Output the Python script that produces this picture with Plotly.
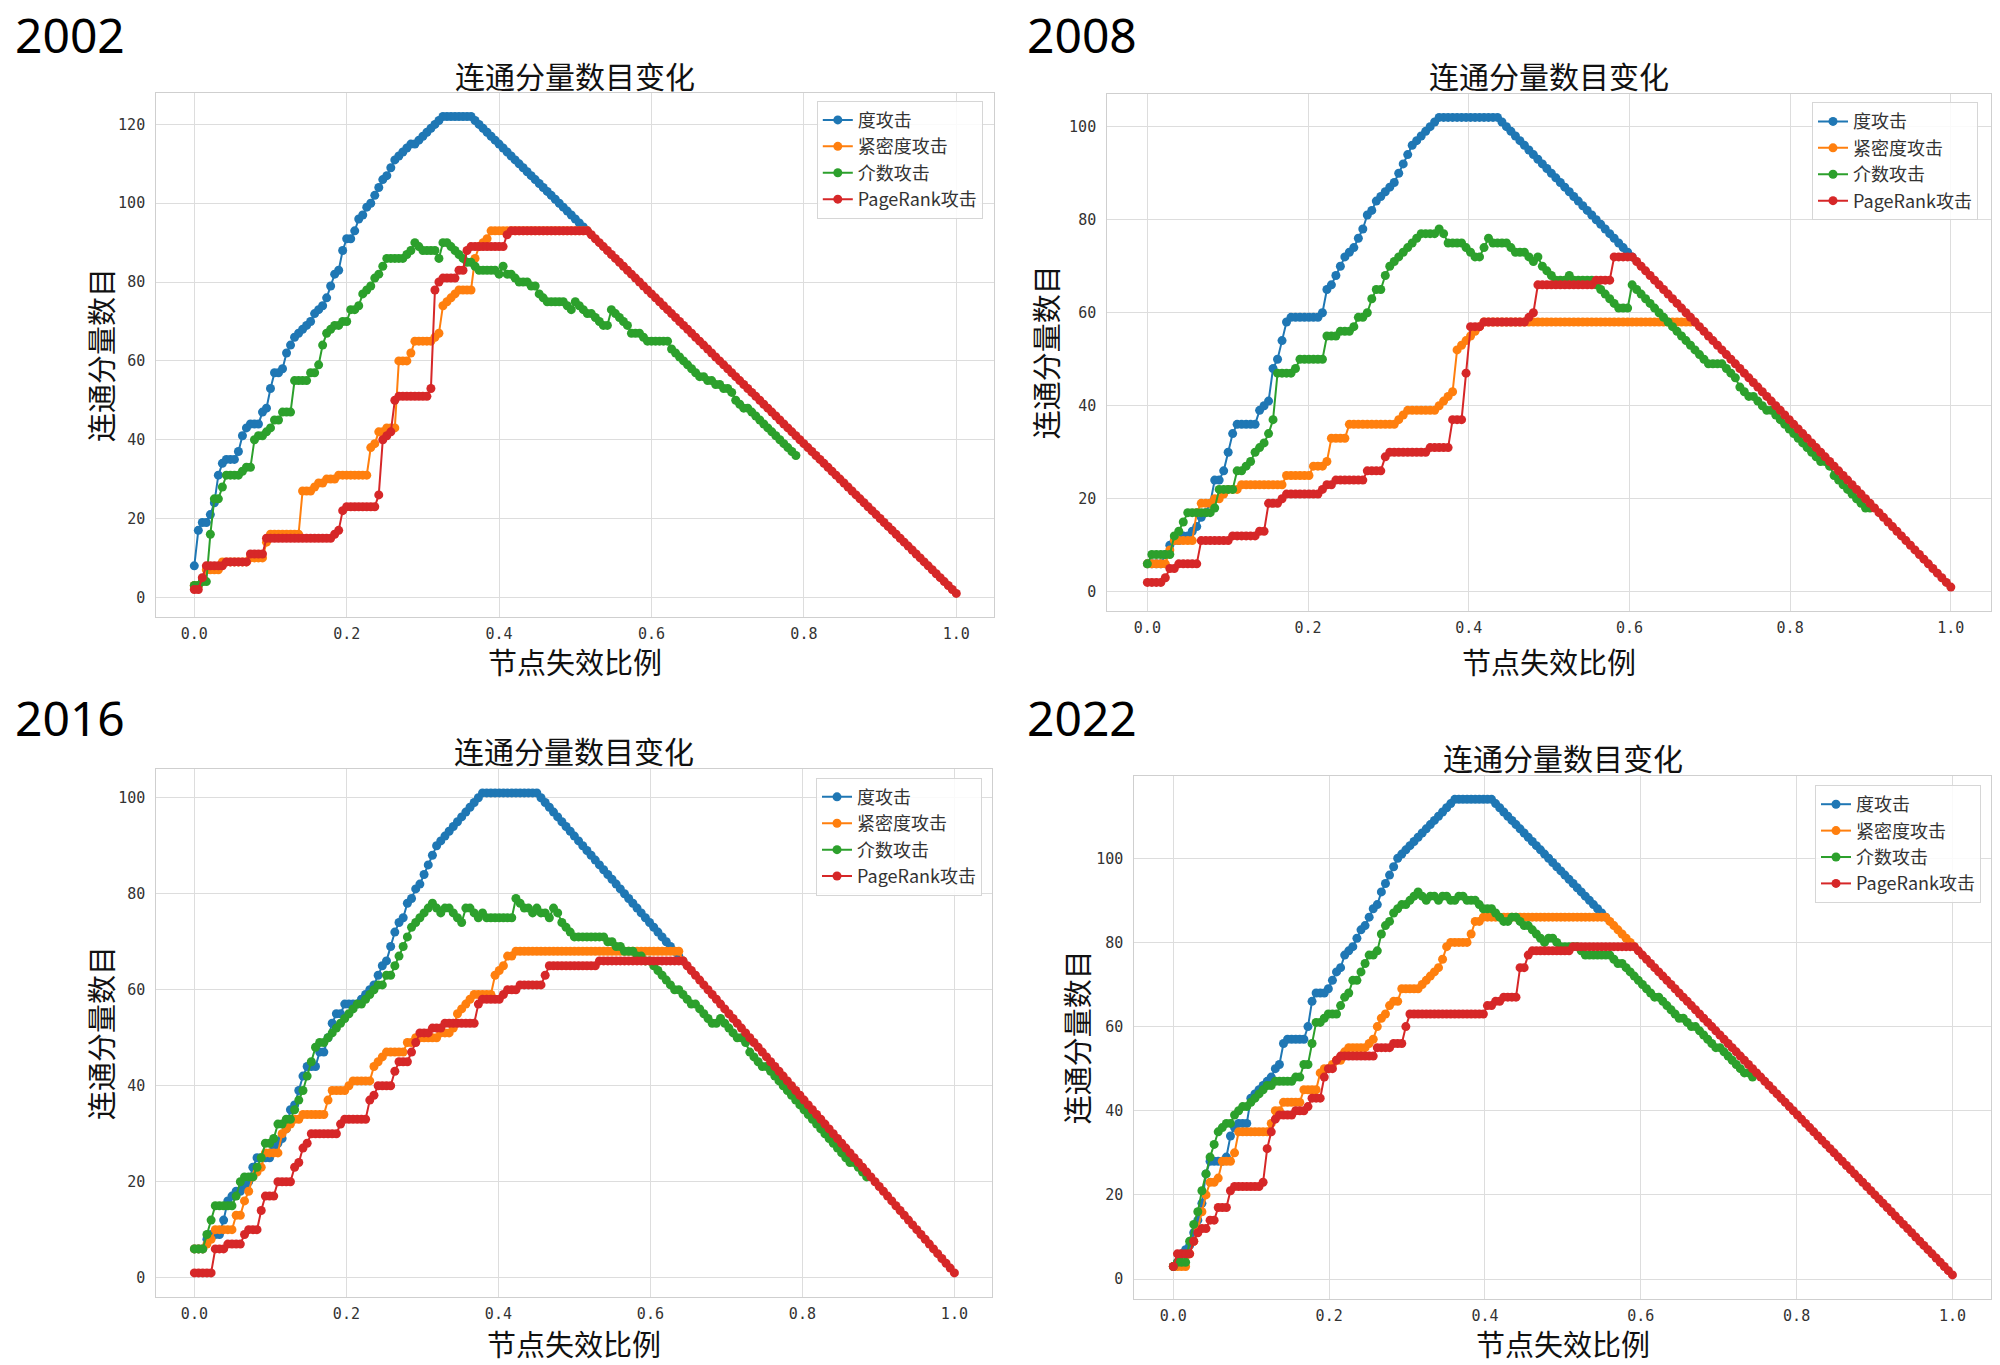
import numpy as np
import plotly.graph_objects as go

# 网络节点数 (横轴 = 已移除节点数 / 节点数)
n_2002 = 190
n_2008 = 179
n_2016 = 182
n_2022 = 191

# ---------------- 2002 ----------------
deg_2002 = [8, 17, 19, 19, 21, 24, 31, 34, 35, 35, 35, 37, 41, 43, 44, 44, 44, 47, 48, 53,
            57, 57, 58, 62, 64, 66, 67, 68, 69, 70, 72, 73, 74, 76, 79, 82, 83, 88, 91, 91,
            93, 96, 97, 99, 100, 102, 104, 106, 107, 109, 111, 112, 113, 114, 115, 115, 116, 117, 118, 119,
            120, 121, 122, 122, 122, 122, 122, 122, 122, 122, 121, 120, 119, 118, 117, 116, 115, 114, 113, 112,
            111, 110, 109, 108, 107, 106, 105, 104, 103, 102, 101, 100, 99, 98, 97, 96, 95, 94, 93]
cls_2002 = [3, 3, 4, 7, 7, 7, 7, 9, 9, 9, 9, 9, 9, 9, 10, 10, 10, 10, 14, 16,
            16, 16, 16, 16, 16, 16, 16, 27, 27, 27, 28, 29, 29, 30, 30, 30, 31, 31, 31, 31,
            31, 31, 31, 31, 38, 39, 42, 42, 43, 43, 43, 60, 60, 60, 62, 65, 65, 65, 65, 65,
            66, 67, 74, 75, 76, 77, 78, 78, 78, 78, 86, 89, 90, 91, 93, 93, 93, 93, 93, 93,
            93, 93, 93, 93, 93, 93, 93, 93, 93, 93, 93, 93, 93, 93, 93, 93, 93, 93, 93]
btw_2002 = [3, 3, 4, 4, 16, 25, 25, 28, 31, 31, 31, 31, 32, 33, 33, 40, 41, 41, 42, 43,
            45, 45, 47, 47, 47, 55, 55, 55, 55, 57, 57, 59, 64, 67, 68, 69, 69, 70, 70, 73,
            73, 74, 77, 78, 79, 81, 82, 84, 86, 86, 86, 86, 86, 87, 88, 90, 89, 88, 88, 88,
            88, 86, 90, 90, 89, 88, 87, 86, 85, 85, 84, 83, 83, 83, 83, 83, 82, 84, 82, 82,
            81, 80, 80, 80, 79, 79, 77, 76, 75, 75, 75, 75, 75, 74, 73, 75, 74, 73, 72, 72,
            71, 70, 69, 69, 73, 72, 71, 70, 69, 67, 67, 67, 66, 65, 65, 65, 65, 65, 65, 63,
            62, 61, 60, 59, 58, 57, 56, 56, 55, 55, 54, 54, 53, 53, 52, 50, 49, 48, 48, 47,
            46, 45, 44, 43, 42, 41, 40, 39, 38, 37, 36]
pr_2002 = [2, 2, 5, 8, 8, 8, 8, 8, 9, 9, 9, 9, 9, 9, 11, 11, 11, 11, 15, 15,
           15, 15, 15, 15, 15, 15, 15, 15, 15, 15, 15, 15, 15, 15, 15, 16, 17, 22, 23, 23,
           23, 23, 23, 23, 23, 23, 26, 40, 41, 42, 50, 51, 51, 51, 51, 51, 51, 51, 51, 53,
           78, 80, 81, 81, 81, 81, 83, 83, 88, 89, 89, 89, 89, 89, 89, 89, 89, 89, 92, 93,
           93, 93, 93, 93, 93, 93, 93, 93, 93, 93, 93, 93, 93, 93, 93, 93, 93, 93, 93,
           92, 91, 90, 89, 88, 87, 86, 85, 84, 83, 82, 81, 80, 79, 78, 77, 76, 75, 74, 73,
           72, 71, 70, 69, 68, 67, 66, 65, 64, 63, 62, 61, 60, 59, 58, 57, 56, 55, 54, 53,
           52, 51, 50, 49, 48, 47, 46, 45, 44, 43, 42, 41, 40, 39, 38, 37, 36, 35, 34, 33,
           32, 31, 30, 29, 28, 27, 26, 25, 24, 23, 22, 21, 20, 19, 18, 17, 16, 15, 14, 13,
           12, 11, 10, 9, 8, 7, 6, 5, 4, 3, 2, 1]

# ---------------- 2008 ----------------
deg_2008 = [6, 6, 6, 6, 8, 10, 11, 11, 12, 12, 13, 14, 16, 17, 19, 24, 24, 26, 30, 34,
            36, 36, 36, 36, 36, 39, 40, 41, 48, 50, 54, 58, 59, 59, 59, 59, 59, 59, 59, 60,
            65, 66, 68, 70, 72, 73, 74, 76, 78, 81, 82, 84, 85, 86, 87, 88, 90, 92, 94, 96,
            97, 98, 99, 100, 101, 102, 102, 102, 102, 102, 102, 102, 102, 102, 102, 102, 102, 102, 102, 101,
            100, 99, 98, 97, 96, 95, 94, 93, 92, 91, 90, 89, 88, 87, 86, 85, 84, 83, 82, 81,
            80, 79, 78, 77, 76, 75, 74, 73, 72]
cls_2008 = [6, 6, 6, 6, 6, 9, 11, 11, 11, 11, 11, 17, 19, 19, 19, 20, 20, 21, 22, 22,
            22, 23, 23, 23, 23, 23, 23, 23, 23, 23, 23, 25, 25, 25, 25, 25, 25, 27, 27, 27,
            28, 33, 33, 33, 33, 36, 36, 36, 36, 36, 36, 36, 36, 36, 36, 36, 37, 38, 39, 39,
            39, 39, 39, 39, 39, 40, 41, 42, 43, 52, 53, 54, 55, 56, 57, 58, 58, 58, 58, 58,
            58, 58, 58, 58, 58, 58, 58, 58, 58, 58, 58, 58, 58, 58, 58, 58, 58, 58, 58, 58,
            58, 58, 58, 58, 58, 58, 58, 58, 58, 58, 58, 58, 58, 58, 58, 58, 58, 58, 58, 58,
            58, 58, 58]
btw_2008 = [6, 8, 8, 8, 8, 8, 12, 13, 15, 17, 17, 17, 17, 17, 17, 18, 22, 22, 22, 22,
            26, 26, 27, 28, 30, 31, 32, 34, 37, 47, 47, 47, 47, 48, 50, 50, 50, 50, 50, 50,
            55, 55, 55, 56, 56, 56, 57, 59, 59, 60, 63, 65, 65, 68, 70, 71, 72, 73, 74, 75,
            76, 77, 77, 77, 77, 78, 77, 75, 75, 75, 75, 74, 73, 72, 72, 74, 76, 75, 75, 75,
            75, 74, 73, 73, 73, 72, 71, 72, 70, 69, 68, 67, 67, 67, 68, 67, 67, 67, 67, 67,
            66, 65, 64, 63, 62, 61, 61, 61, 66, 65, 64, 63, 62, 61, 60, 59, 58, 57, 56, 55,
            54, 53, 52, 51, 50, 49, 49, 49, 49, 48, 47, 46, 44, 43, 42, 42, 41, 40, 39, 39,
            38, 37, 36, 35, 34, 33, 32, 31, 30, 29, 28, 28, 27, 25, 24, 23, 22, 21, 20, 19,
            18, 18]
pr_2008 = [2, 2, 2, 2, 3, 5, 5, 6, 6, 6, 6, 6, 11, 11, 11, 11, 11, 11, 11, 12,
           12, 12, 12, 12, 12, 13, 13, 19, 19, 19, 20, 21, 21, 21, 21, 21, 21, 21, 21, 22,
           23, 23, 24, 24, 24, 24, 24, 24, 24, 26, 26, 26, 26, 29, 30, 30, 30, 30, 30, 30,
           30, 30, 30, 31, 31, 31, 31, 31, 37, 37, 37, 47, 57, 57, 57, 58, 58, 58, 58, 58,
           58, 58, 58, 58, 58, 59, 60, 66, 66, 66, 66, 66, 66, 66, 66, 66, 66, 66, 66, 66,
           67, 67, 67, 67, 72, 72, 72, 72, 72,
           71, 70, 69, 68, 67, 66, 65, 64, 63, 62, 61, 60, 59, 58, 57, 56, 55, 54, 53, 52,
           51, 50, 49, 48, 47, 46, 45, 44, 43, 42, 41, 40, 39, 38, 37, 36, 35, 34, 33, 32,
           31, 30, 29, 28, 27, 26, 25, 24, 23, 22, 21, 20, 19, 18, 17, 16, 15, 14, 13, 12,
           11, 10, 9, 8, 7, 6, 5, 4, 3, 2, 1]

# ---------------- 2016 ----------------
deg_2016 = [6, 6, 6, 8, 9, 9, 9, 12, 16, 17, 18, 18, 19, 20, 23, 25, 25, 25, 25, 27,
            28, 29, 31, 35, 36, 39, 42, 44, 44, 44, 47, 47, 50, 53, 55, 55, 57, 57, 57, 57,
            58, 59, 60, 61, 63, 65, 66, 69, 72, 74, 75, 78, 79, 81, 82, 84, 86, 88, 90, 91,
            92, 93, 94, 95, 96, 97, 98, 99, 100, 101, 101, 101, 101, 101, 101, 101, 101, 101, 101, 101,
            101, 101, 101, 100, 99, 98, 97, 96, 95, 94, 93, 92, 91, 90, 89, 88, 87, 86, 85, 84,
            83, 82, 81, 80, 79, 78, 77, 76, 75, 74, 73, 72, 71, 70, 69, 68, 67, 66]
cls_2016 = [6, 6, 6, 7, 8, 10, 10, 10, 10, 10, 13, 13, 16, 18, 21, 22, 23, 26, 26, 26,
            26, 30, 31, 32, 33, 33, 34, 34, 34, 34, 34, 34, 37, 39, 39, 39, 39, 40, 41, 41,
            41, 41, 41, 44, 45, 46, 47, 47, 47, 47, 47, 49, 49, 50, 50, 50, 50, 50, 50, 51,
            51, 51, 52, 55, 56, 57, 58, 59, 59, 59, 59, 59, 63, 64, 65, 67, 67, 68, 68, 68,
            68, 68, 68, 68, 68, 68, 68, 68, 68, 68, 68, 68, 68, 68, 68, 68, 68, 68, 68, 68,
            68, 68, 68, 68, 68, 68, 68, 68, 68, 68, 68, 68, 68, 68, 68, 68, 68, 66]
btw_2016 = [6, 6, 6, 9, 12, 15, 15, 15, 15, 15, 17, 20, 21, 21, 21, 23, 25, 28, 28, 29,
            32, 32, 33, 33, 35, 37, 39, 42, 45, 48, 49, 49, 50, 51, 52, 53, 54, 55, 56, 57,
            57, 58, 59, 60, 61, 61, 63, 63, 65, 67, 69, 71, 73, 74, 75, 76, 77, 78, 77, 76,
            77, 77, 76, 75, 74, 77, 77, 76, 75, 76, 75, 75, 75, 75, 75, 75, 75, 79, 78, 77,
            77, 76, 77, 76, 76, 75, 77, 76, 74, 73, 72, 71, 71, 71, 71, 71, 71, 71, 71, 70,
            70, 69, 69, 68, 68, 68, 67, 67, 66, 66, 65, 64, 63, 62, 61, 60, 60, 59, 58, 57,
            57, 56, 55, 54, 53, 53, 54, 53, 52, 51, 50, 50, 49, 47, 46, 45, 44, 44, 43, 42,
            41, 40, 39, 38, 37, 36, 35, 34, 33, 32, 31, 30, 29, 28, 27, 26, 25, 24, 24, 23,
            22, 21]
pr_2016 = [1, 1, 1, 1, 1, 6, 6, 6, 7, 7, 7, 7, 9, 10, 10, 10, 14, 17, 17, 17,
           20, 20, 20, 20, 23, 24, 27, 28, 30, 30, 30, 30, 30, 30, 30, 32, 33, 33, 33, 33,
           33, 33, 37, 38, 40, 40, 40, 40, 43, 45, 45, 45, 47, 49, 51, 51, 51, 52, 52, 52,
           53, 53, 53, 53, 53, 53, 53, 53, 57, 58, 58, 58, 58, 58, 59, 60, 60, 60, 61, 61,
           61, 61, 61, 61, 63, 65, 65, 65, 65, 65, 65, 65, 65, 65, 65, 65, 65, 66, 66, 66,
           66, 66, 66, 66, 66, 66, 66, 66, 66, 66, 66, 66, 66, 66, 66, 66, 66, 66,
           65, 64, 63, 62, 61, 60, 59, 58, 57, 56, 55, 54, 53, 52, 51, 50, 49, 48, 47, 46,
           45, 44, 43, 42, 41, 40, 39, 38, 37, 36, 35, 34, 33, 32, 31, 30, 29, 28, 27, 26,
           25, 24, 23, 22, 21, 20, 19, 18, 17, 16, 15, 14, 13, 12, 11, 10, 9, 8, 7, 6,
           5, 4, 3, 2, 1]

# ---------------- 2022 ----------------
deg_2022 = [3, 4, 6, 7, 8, 11, 14, 18, 25, 28, 28, 28, 28, 29, 34, 36, 37, 37, 37, 43,
            44, 45, 46, 47, 48, 50, 51, 56, 57, 57, 57, 57, 57, 60, 66, 68, 68, 68, 69, 71,
            73, 74, 77, 78, 79, 81, 83, 84, 86, 88, 89, 92, 94, 96, 98, 100, 101, 102, 103, 104,
            105, 106, 107, 108, 109, 110, 111, 112, 113, 114, 114, 114, 114, 114, 114, 114, 114, 114, 114, 113,
            112, 111, 110, 109, 108, 107, 106, 105, 104, 103, 102, 101, 100, 99, 98, 97, 96, 95, 94, 93,
            92, 91, 90, 89, 88, 87, 86]
cls_2022 = [3, 3, 3, 3, 6, 9, 12, 16, 20, 23, 23, 24, 28, 28, 28, 30, 35, 35, 35, 35,
            35, 35, 35, 35, 37, 40, 40, 42, 42, 42, 42, 42, 45, 45, 45, 45, 49, 50, 50, 51,
            52, 52, 54, 55, 55, 55, 55, 55, 56, 57, 60, 62, 63, 65, 66, 66, 69, 69, 69, 69,
            69, 70, 71, 72, 73, 74, 76, 79, 80, 80, 80, 80, 80, 82, 85, 85, 86, 86, 86, 86,
            86, 86, 86, 86, 86, 86, 86, 86, 86, 86, 86, 86, 86, 86, 86, 86, 86, 86, 86, 86,
            86, 86, 86, 86, 86, 86, 86, 85, 84, 83, 82, 81, 80, 79]
btw_2022 = [3, 4, 4, 4, 9, 13, 16, 21, 25, 29, 32, 35, 36, 37, 37, 39, 40, 41, 41, 42,
            43, 44, 45, 46, 46, 47, 47, 47, 47, 47, 48, 48, 51, 51, 56, 61, 61, 62, 63, 63,
            63, 65, 67, 68, 71, 71, 73, 75, 77, 77, 78, 82, 84, 85, 87, 88, 89, 89, 90, 91,
            92, 91, 90, 91, 91, 90, 91, 91, 90, 90, 91, 91, 90, 90, 90, 89, 88, 88, 88, 87,
            86, 85, 85, 86, 86, 85, 84, 84, 83, 82, 81, 80, 81, 81, 80, 79, 79, 79, 79, 79,
            78, 77, 77, 77, 77, 77, 77, 77, 76, 75, 75, 74, 73, 72, 71, 70, 69, 68, 67, 67,
            66, 65, 64, 63, 62, 62, 61, 60, 60, 59, 58, 57, 56, 55, 55, 54, 53, 52, 51, 50,
            49, 49, 48]
pr_2022 = [3, 6, 6, 6, 6, 9, 11, 12, 12, 14, 14, 17, 17, 17, 21, 22, 22, 22, 22, 22,
           22, 22, 23, 31, 35, 38, 39, 39, 39, 39, 40, 40, 40, 41, 43, 43, 43, 48, 50, 50,
           52, 53, 53, 53, 53, 53, 53, 53, 53, 53, 55, 55, 55, 55, 56, 56, 56, 60, 63, 63,
           63, 63, 63, 63, 63, 63, 63, 63, 63, 63, 63, 63, 63, 63, 63, 63, 63, 65, 65, 66,
           66, 67, 67, 67, 67, 74, 74, 77, 78, 78, 78, 78, 78, 78, 78, 78, 78, 78, 79, 79,
           79, 79, 79, 79, 79, 79, 79, 79, 79, 79, 79, 79, 79, 79,
           78, 77, 76, 75, 74, 73, 72, 71, 70, 69, 68, 67, 66, 65, 64, 63, 62, 61, 60, 59,
           58, 57, 56, 55, 54, 53, 52, 51, 50, 49, 48, 47, 46, 45, 44, 43, 42, 41, 40, 39,
           38, 37, 36, 35, 34, 33, 32, 31, 30, 29, 28, 27, 26, 25, 24, 23, 22, 21, 20, 19,
           18, 17, 16, 15, 14, 13, 12, 11, 10, 9, 8, 7, 6, 5, 4, 3, 2, 1]

years = ["2002", "2008", "2016", "2022"]
attack_names = ["度攻击", "紧密度攻击", "介数攻击", "PageRank攻击"]
x_ticks = [0.0, 0.2, 0.4, 0.6, 0.8, 1.0]
y_ticks = [0, 20, 40, 60, 80, 100, 120]

panels = [
    (n_2002, [deg_2002, cls_2002, btw_2002, pr_2002]),
    (n_2008, [deg_2008, cls_2008, btw_2008, pr_2008]),
    (n_2016, [deg_2016, cls_2016, btw_2016, pr_2016]),
    (n_2022, [deg_2022, cls_2022, btw_2022, pr_2022]),
]

colors = ["#1f77b4", "#ff7f0e", "#2ca02c", "#d62728"]
CJK = "Noto Sans CJK SC, sans-serif"
TICK = "DejaVu Sans Mono, Noto Sans CJK SC, monospace"

# 子图位置 (paper 坐标)
x_dom = [[0.0781, 0.4972], [0.5536, 0.9955], [0.0782, 0.4962], [0.5672, 0.9957]]
y_dom = [[0.5478, 0.9321], [0.5527, 0.9312], [0.0499, 0.4367], [0.0486, 0.4318]]
legend_pos = [(0.4914, 0.9262), (0.989, 0.9251), (0.491, 0.4303), (0.9905, 0.4249)]
title_pos = [(0.2877, 0.9453), (0.7747, 0.9451), (0.2872, 0.4505), (0.7814, 0.4454)]
xlab_pos = [(0.2877, 0.5160), (0.7747, 0.5158), (0.2872, 0.0160), (0.7814, 0.0160)]
ylab_pos = [(0.050, 0.7399), (0.5225, 0.742), (0.050, 0.2433), (0.538, 0.2402)]
year_pos = [(0.0065, 0.9747), (0.5125, 0.9747), (0.0065, 0.474), (0.5125, 0.474)]

fig = go.Figure()
layout = {}
annotations = []

for k, (n, series) in enumerate(panels):
    sfx = "" if k == 0 else str(k + 1)
    leg = "legend" + sfx
    for name, ys, color in zip(attack_names, series, colors):
        xs = np.arange(len(ys)) / n
        fig.add_trace(go.Scatter(
            x=xs, y=ys, mode="lines+markers", name=name,
            line=dict(color=color, width=2),
            marker=dict(color=color, size=9),
            xaxis="x" + sfx, yaxis="y" + sfx, legend=leg,
        ))

    lo = min(min(s) for s in series)
    hi = max(max(s) for s in series)
    pad = 0.05 * (hi - lo)

    axis_common = dict(
        showgrid=True, gridcolor="#dddddd", gridwidth=1,
        showline=True, mirror=True, linecolor="#cfcfcf", linewidth=1,
        zeroline=False, ticks="",
        tickfont=dict(family=TICK, size=15, color="#333333"),
    )
    layout["xaxis" + sfx] = dict(
        domain=x_dom[k], anchor="y" + sfx, range=[-0.05, 1.05],
        tickvals=x_ticks, ticktext=[f"{v:.1f}" for v in x_ticks],
        ticklabelstandoff=3, **axis_common,
    )
    yt = [v for v in y_ticks if v <= hi + pad]
    layout["yaxis" + sfx] = dict(
        domain=y_dom[k], anchor="x" + sfx, range=[lo - pad, hi + pad],
        tickvals=yt, ticktext=[str(v) for v in yt],
        ticklabelstandoff=7, **axis_common,
    )
    lx, ly = legend_pos[k]
    layout[leg] = dict(
        x=lx, y=ly, xanchor="right", yanchor="top",
        bgcolor="rgba(255,255,255,0.85)", bordercolor="#d6d6d6", borderwidth=1,
        font=dict(family=CJK, size=18, color="#333333"),
    )

    tx, ty = title_pos[k]
    annotations.append(dict(x=tx, y=ty, xref="paper", yref="paper", text="连通分量数目变化",
                            showarrow=False, xanchor="center", yanchor="middle",
                            font=dict(family=CJK, size=30, color="#111111")))
    tx, ty = xlab_pos[k]
    annotations.append(dict(x=tx, y=ty, xref="paper", yref="paper", text="节点失效比例",
                            showarrow=False, xanchor="center", yanchor="middle",
                            font=dict(family=CJK, size=29, color="#111111")))
    tx, ty = ylab_pos[k]
    annotations.append(dict(x=tx, y=ty, xref="paper", yref="paper", text="连通分量数目",
                            showarrow=False, xanchor="center", yanchor="middle", textangle=-90,
                            font=dict(family=CJK, size=29, color="#111111")))
    tx, ty = year_pos[k]
    annotations.append(dict(x=tx, y=ty, xref="paper", yref="paper", text=years[k],
                            showarrow=False, xanchor="left", yanchor="middle",
                            font=dict(family="Noto Sans, sans-serif", size=48, color="#000000")))

fig.update_layout(
    width=2000, height=1365, autosize=False,
    margin=dict(l=0, r=0, t=0, b=0),
    paper_bgcolor="white", plot_bgcolor="white",
    annotations=annotations,
    **layout,
)

fig.write_html("out.html", config={"displayModeBar": False},
               post_script="document.body.style.margin='0';")
